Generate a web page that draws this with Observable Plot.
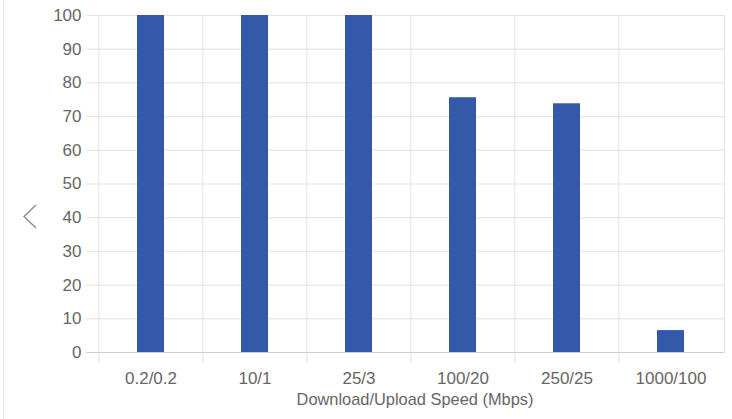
<!DOCTYPE html>
<html>
<head>
<meta charset="utf-8">
<script src="https://cdn.jsdelivr.net/npm/d3@7"></script>
<script src="https://cdn.jsdelivr.net/npm/@observablehq/plot@0.6"></script>
<style>
  html, body { margin: 0; padding: 0; background: #fff; }
  #wrap { position: relative; width: 732px; height: 419px; overflow: hidden; font-family: "Liberation Sans", Arial, sans-serif; }
  #border { position: absolute; left: 3px; top: 0; width: 1px; height: 419px; background: #e6e6e6; }
  #chev { position: absolute; left: 20px; top: 203px; }
</style>
</head>
<body>
<div id="wrap">
  <div id="border"></div>
  <div id="chart"></div>
  <svg id="chev" width="20" height="27"><polyline points="16,2 4,13.5 16,25" fill="none" stroke="#8a8a8a" stroke-width="1.4"/></svg>
</div>
<script>
const categories = ["0.2/0.2", "10/1", "25/3", "100/20", "250/25", "1000/100"];
const values = [100, 100, 100, 75.6, 73.8, 6.5];
const yTicks = [0, 10, 20, 30, 40, 50, 60, 70, 80, 90, 100];
const xTitle = "Download/Upload Speed (Mbps)";

const data = categories.map((c, i) => ({cat: c, value: values[i]}));

const W = 732, H = 419, mL = 97, mR = 8, mT = 15, mB = 67;
const step = (W - mL - mR) / categories.length;

const chart = Plot.plot({
  width: W,
  height: H,
  marginLeft: mL,
  marginRight: mR,
  marginTop: mT,
  marginBottom: mB,
  style: {fontFamily: '"Liberation Sans", Arial, sans-serif', fontSize: "17px", color: "#666", background: "transparent"},
  x: {domain: categories, paddingInner: 0.74, paddingOuter: 0.37, label: null},
  y: {domain: [0, 100], label: null},
  marks: [
    Plot.ruleY(yTicks.slice(1), {stroke: "#e3e3e3", strokeWidth: 1, insetLeft: -11}),
    Plot.ruleX(categories, {x: d => d, dx: -step / 2, stroke: "#e3e3e3", insetBottom: -10}),
    Plot.frame({anchor: "right", stroke: "#e3e3e3"}),
    Plot.ruleY([0], {stroke: "#cfcfcf", insetLeft: -11}),
    Plot.barY(data, {x: "cat", y: "value", fill: "#3359a8"}),
    Plot.axisY({ticks: yTicks, tickSize: 0, tickPadding: 16, fill: "#666", fontSize: 17, label: null}),
    Plot.axisX({tickSize: 0, tickPadding: 19, fill: "#666", fontSize: 17, label: null}),
    Plot.text([xTitle], {frameAnchor: "bottom", dx: 4, dy: 52, text: d => d, fill: "#666", fontSize: 16.4, lineAnchor: "bottom"})
  ]
});
document.getElementById("chart").appendChild(chart);
</script>
</body>
</html>
